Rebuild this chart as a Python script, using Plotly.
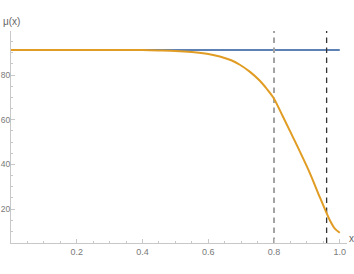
import plotly.graph_objects as go

# ---- data ----
x_const = [0.0, 1.0]
mu_const = [91.2, 91.2]

x_curve = [0.0, 0.1, 0.2, 0.3, 0.4, 0.45, 0.5, 0.55, 0.6, 0.635, 0.67, 0.696,
           0.727, 0.757, 0.78, 0.8, 0.827, 0.869, 0.909, 0.939, 0.957, 0.969,
           0.985, 1.0]
mu_curve = [91.2, 91.2, 91.2, 91.2, 91.15, 91.0, 90.8, 90.3, 89.4, 88.3, 86.6,
            84.6, 81.4, 77.4, 73.4, 69.4, 61.4, 48.7, 36.1, 25.4, 19.2, 15.2,
            11.2, 9.4]

vline_x = [0.8, 0.96]

x_ticks = [0.2, 0.4, 0.6, 0.8, 1.0]
x_ticklabels = ["0.2", "0.4", "0.6", "0.8", "1.0"]
y_ticks = [20, 40, 60, 80]
y_ticklabels = ["20", "40", "60", "80"]

y_range = [4.8, 99.7]
x_range = [0.0, 1.022]

BLUE = "#5E81B5"
ORANGE = "#E19C24"
AXIS = "#c8c8c8"
LABEL = "#7a7a7a"

fig = go.Figure()

fig.add_trace(go.Scatter(x=x_const, y=mu_const, mode="lines",
                         line=dict(color=BLUE, width=2), showlegend=False,
                         hoverinfo="skip"))

# dashed vertical lines
fig.add_trace(go.Scatter(x=[vline_x[0], vline_x[0]], y=y_range, mode="lines",
                         line=dict(color="#a3a3a3", width=2, dash="5.5px,4.5px"),
                         showlegend=False, hoverinfo="skip"))
fig.add_trace(go.Scatter(x=[vline_x[1], vline_x[1]], y=y_range, mode="lines",
                         line=dict(color="#333333", width=1.3, dash="5.5px,4.5px"),
                         showlegend=False, hoverinfo="skip"))

fig.add_trace(go.Scatter(x=x_curve, y=mu_curve, mode="lines",
                         line=dict(color=ORANGE, width=2, shape="spline", smoothing=0.8),
                         showlegend=False, hoverinfo="skip"))

tickfont = dict(family="Liberation Sans, Arial, sans-serif", size=9, color=LABEL)
ytickfont = dict(family="Liberation Sans, Arial, sans-serif", size=8.5, color=LABEL)

fig.update_layout(
    width=354, height=274,
    margin=dict(l=11, r=7, t=31, b=31),
    paper_bgcolor="white", plot_bgcolor="white",
    xaxis=dict(range=x_range, showgrid=False, zeroline=False,
               showline=True, linecolor=AXIS, linewidth=1,
               tickvals=x_ticks, ticktext=x_ticklabels,
               ticks="inside", ticklen=4, tickcolor=AXIS, tickwidth=1,
               minor=dict(dtick=0.05, tick0=0, ticks="inside", ticklen=2,
                          tickcolor=AXIS, tickwidth=1, showgrid=False),
               tickfont=tickfont, automargin=False, fixedrange=True),
    yaxis=dict(range=y_range, showgrid=False, zeroline=False,
               showline=True, linecolor=AXIS, linewidth=1,
               tickvals=y_ticks, ticktext=y_ticklabels,
               ticks="inside", ticklen=4, tickcolor=AXIS, tickwidth=1,
               minor=dict(dtick=5, tick0=0, ticks="inside", ticklen=2,
                          tickcolor=AXIS, tickwidth=1, showgrid=False),
               ticklabelstandoff=-2,
               tickfont=ytickfont, automargin=False, fixedrange=True),
    annotations=[
        dict(text="μ(x)", xref="paper", yref="paper", x=0, y=1, xshift=-10,
             yshift=2, xanchor="left", yanchor="bottom", showarrow=False,
             font=dict(family="Liberation Sans, Arial, sans-serif", size=10, color="#666666")),
        dict(text="x", xref="paper", yref="paper", x=1, y=0, xshift=0,
             yshift=-3, xanchor="left", yanchor="bottom", showarrow=False,
             font=dict(family="Liberation Sans, Arial, sans-serif", size=10, color="#666666")),
    ],
)

fig.write_html("out.html", config={"displayModeBar": False},
               post_script="document.body.style.margin='0';document.body.style.padding='0';")
